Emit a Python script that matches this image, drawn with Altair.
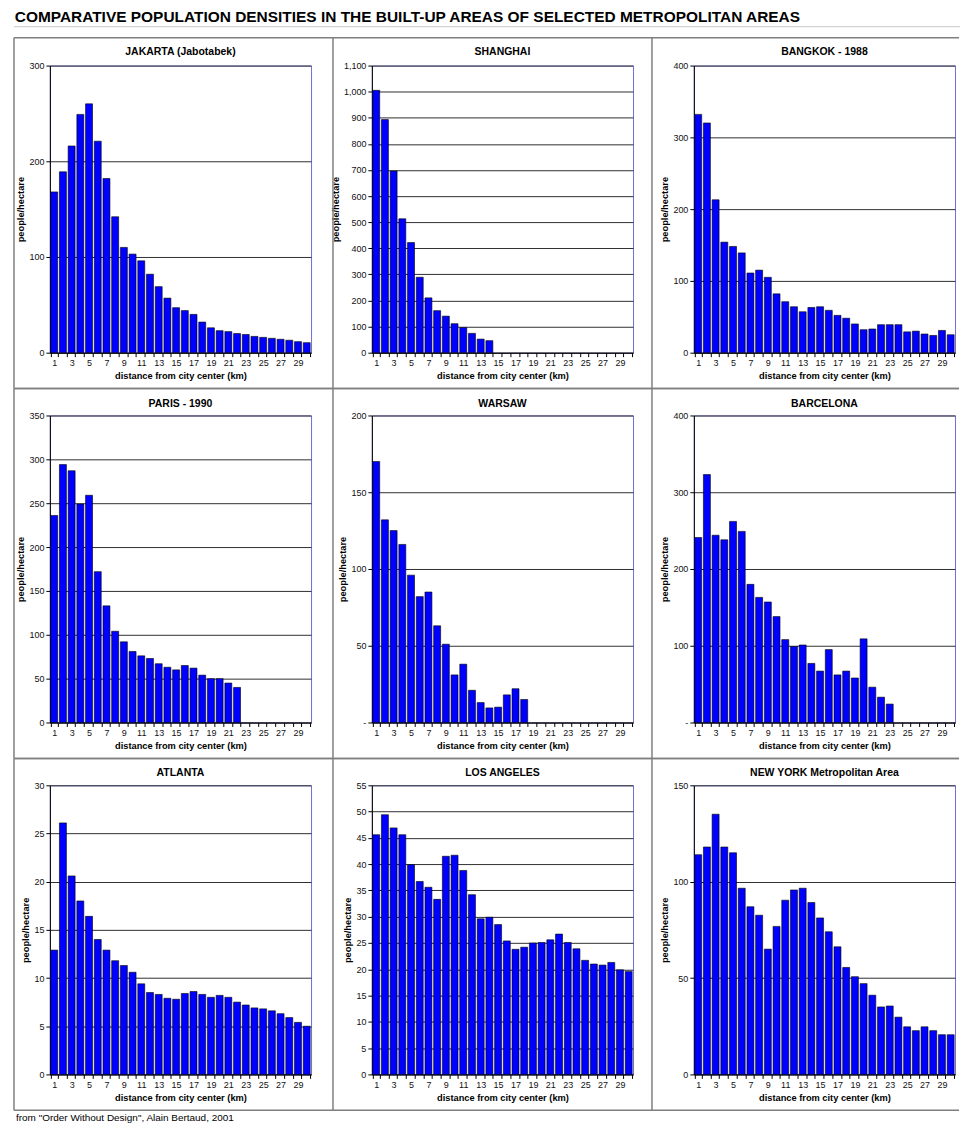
import altair as alt
import pandas as pd

# ---------------- data (people / hectare by km from city center) ----------------
distance_km = [1, 2, 3, 4, 5, 6, 7, 8, 9, 10, 11, 12, 13, 14, 15,
               16, 17, 18, 19, 20, 21, 22, 23, 24, 25, 26, 27, 28, 29, 30]

jakarta = [168, 189, 216, 249, 260, 221, 182, 142, 110, 103, 96, 82, 69, 57, 47,
           44, 40, 32, 26, 23, 22, 20, 19, 17, 16, 15, 14, 13, 11.5, 10.5]
shanghai = [1005, 893, 696, 513, 422, 289, 210, 161, 140, 111, 96, 74, 52, 46, 0,
            0, 0, 0, 0, 0, 0, 0, 0, 0, 0, 0, 0, 0, 0, 0]
bangkok = [332, 320, 213, 154, 148, 139, 111, 115, 105, 82, 71, 64, 57, 63, 64,
           59, 52, 48, 40, 32, 33, 39, 39, 39, 29, 30, 26, 24, 31, 25]
paris = [236, 294, 287, 249, 259, 172, 133, 104, 92, 81, 76, 73, 67, 63, 60,
         65, 62, 54, 50, 50, 45, 40, 0, 0, 0, 0, 0, 0, 0, 0]
warsaw = [170, 132, 125, 116, 96, 82, 85, 63, 51, 31, 38, 21, 13, 9.5, 10,
          18, 22, 15, 0, 0, 0, 0, 0, 0, 0, 0, 0, 0, 0, 0]
barcelona = [241, 323, 244, 238, 262, 249, 180, 163, 157, 138, 108, 99, 101, 77, 67,
             95, 62, 67, 58, 109, 46, 33, 24, 0, 0, 0, 0, 0, 0, 0]
atlanta = [12.9, 26.1, 20.6, 18.0, 16.4, 14.0, 12.9, 11.8, 11.3, 10.6, 9.4, 8.5, 8.3, 7.9, 7.8,
           8.4, 8.6, 8.3, 8.0, 8.2, 8.0, 7.5, 7.2, 6.9, 6.8, 6.6, 6.3, 5.9, 5.4, 5.0]
los_angeles = [45.6, 49.4, 46.9, 45.6, 39.9, 36.7, 35.6, 33.3, 41.5, 41.7, 38.8, 34.2, 29.6, 29.9, 28.5,
               25.4, 23.8, 24.2, 25.0, 25.1, 25.6, 26.7, 25.1, 23.9, 21.7, 21.0, 20.8, 21.3, 19.9, 19.6]
new_york = [114, 118, 135, 118, 115, 96.6, 87, 82.6, 65, 76.8, 90.4, 95.7, 96.6, 89.2, 81.2,
            74, 66.2, 55.5, 50.7, 47.1, 41.1, 35, 35.5, 29.7, 24.7, 22.7, 24.7, 22.7, 20.6, 20.6]

titles = ["JAKARTA (Jabotabek)", "SHANGHAI", "BANGKOK - 1988",
          "PARIS - 1990", "WARSAW", "BARCELONA",
          "ATLANTA", "LOS ANGELES", "NEW YORK Metropolitan Area"]

y_ticks_jakarta = [0, 100, 200, 300]
y_ticks_shanghai = [0, 100, 200, 300, 400, 500, 600, 700, 800, 900, 1000, 1100]
y_ticks_bangkok = [0, 100, 200, 300, 400]
y_ticks_paris = [0, 50, 100, 150, 200, 250, 300, 350]
y_ticks_warsaw = [0, 50, 100, 150, 200]
y_ticks_barcelona = [0, 100, 200, 300, 400]
y_ticks_atlanta = [0, 5, 10, 15, 20, 25, 30]
y_ticks_la = [0, 5, 10, 15, 20, 25, 30, 35, 40, 45, 50, 55]
y_ticks_ny = [0, 50, 100, 150]

main_title = "COMPARATIVE POPULATION DENSITIES IN THE BUILT-UP AREAS OF SELECTED METROPOLITAN AREAS"
source_note = 'from "Order Without Design", Alain Bertaud, 2001'

# ---------------- styling ----------------
FONT = "Liberation Sans"
BAR_BLUE = "#0000ff"
PANEL_LINE = "#7f7f7f"
SHEET_LINE = "#c8c8c8"
W = 262
ROW_H = [288, 308, 290]
TITLE_DY = [-14, -12, -12]
# panel frame offsets relative to the plot area: (left, right_extra) and (top, bottom_extra)
COL_BOX = [(-36, 22), (-39, 19), (-42, 4)]
ROW_BOX = [(-28, 36), (-27, 36), (-27, 36)]


def const_layer():
    return alt.Chart(alt.Data(values=[{"k": 1}]))


def make_panel(title, values, y_ticks, row, col, zero_dash=False, footer=False, header=False):
    w, h = W, ROW_H[row]
    df = pd.DataFrame({"km": distance_km, "density": values})
    label_expr = "datum.value === 0 ? '-' : datum.label" if zero_dash else "datum.label"

    bars = alt.Chart(df).transform_filter("datum.density > 0").mark_bar(
        color=BAR_BLUE, stroke="#000000", strokeWidth=0.6
    ).encode(
        x=alt.X(
            "km:O",
            scale=alt.Scale(domain=distance_km, paddingInner=0.2, paddingOuter=0.1),
            axis=alt.Axis(
                title="distance from city center (km)",
                labelAngle=0,
                labelExpr="datum.value % 2 === 1 ? datum.label : ''",
                labelOverlap=False,
                tickBand="extent",
                grid=False,
            ),
        ),
        y=alt.Y(
            "density:Q",
            scale=alt.Scale(domain=[y_ticks[0], y_ticks[-1]], nice=False, zero=True),
            axis=alt.Axis(
                title="people/hectare",
                values=y_ticks,
                format=",d",
                labelExpr=label_expr,
                grid=True,
            ),
        ),
    )

    lx, rx = COL_BOX[col]
    ty, by = ROW_BOX[row]
    frame_style = dict(color=PANEL_LINE, strokeWidth=1.5)
    frame_top = const_layer().mark_rule(**frame_style).encode(
        x=alt.value(lx), x2=alt.value(w + rx), y=alt.value(ty))
    frame_bottom = const_layer().mark_rule(**frame_style).encode(
        x=alt.value(lx), x2=alt.value(w + rx), y=alt.value(h + by))
    frame_left = const_layer().mark_rule(**frame_style).encode(
        x=alt.value(lx), y=alt.value(ty), y2=alt.value(h + by))

    panel_title = const_layer().mark_text(
        font=FONT, fontSize=10.5, fontWeight="bold", color="#000000",
        align="center", baseline="middle",
    ).encode(text=alt.value(title), x=alt.value(w / 2), y=alt.value(TITLE_DY[row]))

    layers = [frame_top, frame_bottom, frame_left, bars, panel_title]
    if header:
        # light spreadsheet row line under the sheet title
        sheet_line = const_layer().mark_rule(color=SHEET_LINE, strokeWidth=1).encode(
            x=alt.value(lx), x2=alt.value(lx + 949), y=alt.value(ty - 11))
        layers.insert(0, sheet_line)
    if footer:
        note = const_layer().mark_text(
            align="left", baseline="top", font=FONT, fontSize=10, color="#000000"
        ).encode(text=alt.value(source_note), x=alt.value(lx + 2), y=alt.value(h + by + 3))
        layers.append(note)

    return alt.layer(*layers).properties(width=w, height=h)


panels = [
    make_panel(titles[0], jakarta, y_ticks_jakarta, 0, 0, header=True),
    make_panel(titles[1], shanghai, y_ticks_shanghai, 0, 1),
    make_panel(titles[2], bangkok, y_ticks_bangkok, 0, 2),
    make_panel(titles[3], paris, y_ticks_paris, 1, 0),
    make_panel(titles[4], warsaw, y_ticks_warsaw, 1, 1, zero_dash=True),
    make_panel(titles[5], barcelona, y_ticks_barcelona, 1, 2, zero_dash=True),
    make_panel(titles[6], atlanta, y_ticks_atlanta, 2, 0, footer=True),
    make_panel(titles[7], los_angeles, y_ticks_la, 2, 1),
    make_panel(titles[8], new_york, y_ticks_ny, 2, 2),
]

chart = alt.concat(
    *panels, columns=3, spacing={"row": 63, "column": 61}, bounds="flush"
).properties(
    title=alt.TitleParams(main_title, anchor="start", font=FONT, fontSize=15.5,
                          fontWeight="bold", color="#000000", offset=0, dx=2),
    padding={"left": 4, "top": 0, "right": 0, "bottom": 0},
).configure(
    font=FONT,
    background="#ffffff",
).configure_view(
    stroke="#6f6fd6", strokeWidth=1,
).configure_axis(
    labelFont=FONT, labelFontSize=9, labelColor="#111111",
    titleFont=FONT, titleFontSize=9.3, titleFontWeight="bold", titleColor="#000000",
    domainColor="#000000", domainWidth=1,
    tickColor="#000000", tickSize=4, tickWidth=1,
    gridColor="#303030", gridWidth=1, gridOpacity=1,
    labelPadding=2,
).configure_axisX(
    titlePadding=4,
).configure_axisY(
    titlePadding=3,
)

chart.save("out.html", embed_options={"renderer": "svg", "actions": False})
